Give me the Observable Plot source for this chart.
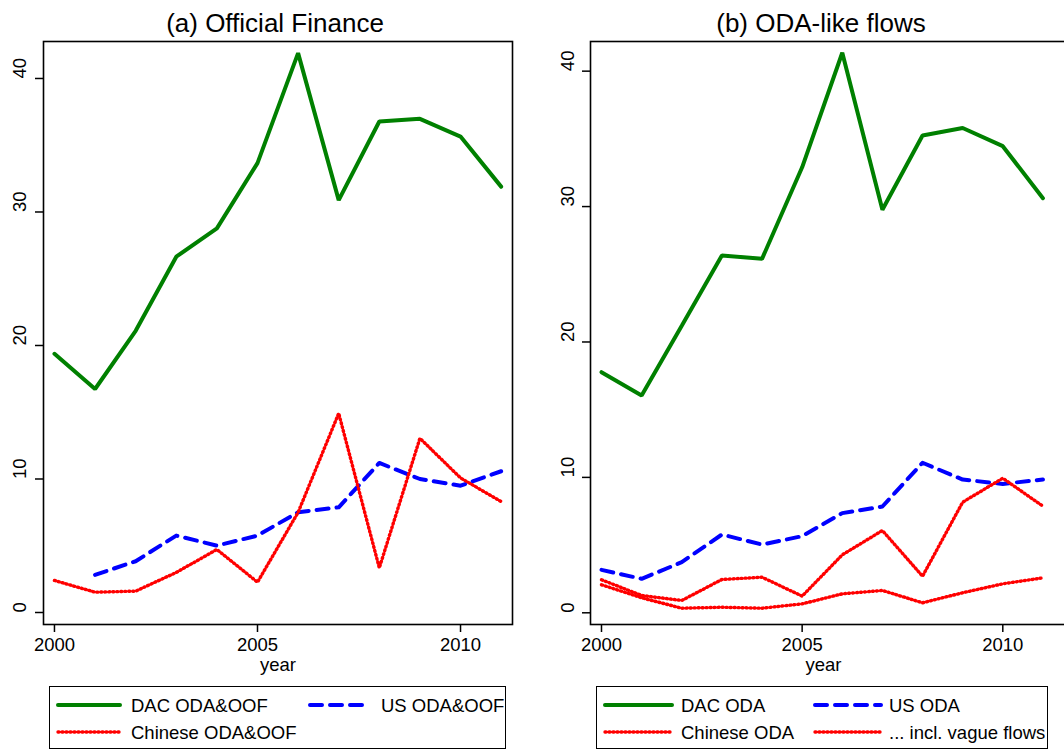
<!DOCTYPE html>
<html>
<head>
<meta charset="utf-8">
<script src="https://cdn.jsdelivr.net/npm/d3@7"></script>
<script src="https://cdn.jsdelivr.net/npm/@observablehq/plot@0.6"></script>
<style>
  html, body { margin: 0; padding: 0; background: #fff; overflow: hidden; }
  #root { position: relative; width: 1064px; height: 749px; overflow: hidden; font-family: "Liberation Sans", Arial, Helvetica, sans-serif; color: #000; }
  .abs { position: absolute; }
  .title { font-size: 26px; line-height: 26px; text-align: center; white-space: nowrap; }
  .lbox { border: 1.5px solid #000; box-sizing: border-box; overflow: hidden; }
  .ltext { font-size: 18.5px; line-height: 18.5px; white-space: nowrap; }
</style>
</head>
<body>
<div id="root"></div>
<script>
// ---- data ----
const years = [2000, 2001, 2002, 2003, 2004, 2005, 2006, 2007, 2008, 2009, 2010, 2011];
const xTicks = [2000, 2005, 2010];
const yTicks = [0, 10, 20, 30, 40];

// (a) Official Finance
const dacOF = [19.38, 16.74, 21.1, 26.65, 28.77, 33.66, 41.9, 30.89, 36.78, 36.98, 35.65, 31.9];
const usOF  = [null, 2.82, 3.84, 5.76, 5.01, 5.76, 7.51, 7.88, 11.2, 10.0, 9.5, 10.58];
const cnOF  = [2.4, 1.52, 1.6, 3.0, 4.72, 2.27, 7.5, 14.92, 3.34, 13.05, 10.08, 8.31];

// (b) ODA-like flows
const dacODA     = [17.77, 16.05, 21.2, 26.39, 26.14, 32.9, 41.36, 29.76, 35.25, 35.8, 34.46, 30.62];
const usODA      = [3.17, 2.51, 3.74, 5.78, 5.04, 5.66, 7.36, 7.85, 11.08, 9.84, 9.52, 9.84];
const cnODA      = [2.07, 1.11, 0.34, 0.41, 0.34, 0.66, 1.4, 1.65, 0.74, 1.48, 2.14, 2.58];
const cnODAvague = [2.44, 1.28, 0.91, 2.46, 2.63, 1.23, 4.28, 6.08, 2.7, 8.17, 9.94, 7.87];

const titles = ["(a) Official Finance", "(b) ODA-like flows"];
const legendA = ["DAC ODA&OOF", "US ODA&OOF", "Chinese ODA&OOF"];
const legendB = ["DAC ODA", "US ODA", "Chinese ODA", "... incl. vague flows"];

// ---- styles ----
const STY = {
  dac: {stroke: "#008000", strokeWidth: 4, strokeLinejoin: "miter"},
  us:  {stroke: "#0000ff", strokeWidth: 4, strokeDasharray: "12 8", strokeLinecap: "round"},
  cn:  {stroke: "#ff0000", strokeWidth: 3.4, strokeDasharray: "1 3", strokeLinecap: "round"}
};

const FONT = "'Liberation Sans', Arial, Helvetica, sans-serif";
const root = document.getElementById("root");

function table(arr) { return years.map((y, i) => ({year: y, v: arr[i]})); }

function panel({left, width, marginLeft, marginRight, xDomain, yDomain, series, yLabelDx, yearDx}) {
  const svg = Plot.plot({
    width, height: 680,
    marginTop: 41, marginBottom: 56, marginLeft, marginRight,
    x: {domain: xDomain},
    y: {domain: yDomain},
    style: {fontFamily: FONT, fontSize: "18.5px", background: "transparent", overflow: "visible", color: "#000"},
    marks: [
      Plot.frame({stroke: "#000", strokeWidth: 1.6}),
      Plot.axisX({ticks: xTicks, tickSize: 8, tickPadding: 5, tickFormat: d => String(d), fontSize: 18.5, label: null, strokeWidth: 1.5}),
      Plot.axisY({ticks: yTicks, tickSize: 8, tickFormat: () => "", label: null, strokeWidth: 1.5}),
      Plot.text(yTicks, {y: d => d, frameAnchor: "left", dx: yLabelDx, rotate: -90, text: d => String(d), fontSize: 18.5, fill: "#000"}),
      Plot.text(["year"], {frameAnchor: "bottom", lineAnchor: "middle", dx: yearDx, dy: 41, text: d => d, fontSize: 18.5, fill: "#000"}),
      ...series.map(([arr, sty]) => Plot.line(table(arr), {x: "year", y: "v", ...sty}))
    ]
  });
  svg.style.position = "absolute";
  svg.style.left = left + "px";
  svg.style.top = "0px";
  root.appendChild(svg);
}

panel({
  left: 0, width: 530, marginLeft: 43, marginRight: 18,
  xDomain: [1999.73, 2011.28], yDomain: [-0.899, 42.77],
  series: [[dacOF, STY.dac], [usOF, STY.us], [cnOF, STY.cn]],
  yLabelDx: -23, yearDx: 0
});
panel({
  left: 530, width: 540, marginLeft: 60, marginRight: 0,
  xDomain: [1999.726, 2011.687], yDomain: [-0.864, 42.19],
  series: [[dacODA, STY.dac], [usODA, STY.us], [cnODA, STY.cn], [cnODAvague, STY.cn]],
  yLabelDx: -22, yearDx: -7
});

// ---- titles ----
function addTitle(text, cx) {
  const d = document.createElement("div");
  d.className = "abs title";
  d.textContent = text;
  d.style.left = (cx - 250) + "px";
  d.style.width = "500px";
  d.style.top = "10px";
  root.appendChild(d);
}
addTitle(titles[0], 275);
addTitle(titles[1], 821);

// ---- legends ----
function sample(sty, x, y, w) {
  const ns = "http://www.w3.org/2000/svg";
  const s = document.createElementNS(ns, "svg");
  s.setAttribute("width", w + 4);
  s.setAttribute("height", 10);
  s.style.position = "absolute";
  s.style.left = (x - 2) + "px";
  s.style.top = (y - 5) + "px";
  s.style.overflow = "visible";
  const l = document.createElementNS(ns, "line");
  l.setAttribute("x1", 2); l.setAttribute("x2", w + 2);
  l.setAttribute("y1", 5); l.setAttribute("y2", 5);
  l.setAttribute("stroke", sty.stroke);
  l.setAttribute("stroke-width", sty.strokeWidth);
  if (sty.strokeDasharray) l.setAttribute("stroke-dasharray", sty.strokeDasharray);
  l.setAttribute("stroke-linecap", sty.strokeLinecap || "round");
  s.appendChild(l);
  return s;
}
function legend(box, items) {
  const b = document.createElement("div");
  b.className = "abs lbox";
  b.style.left = box.left + "px"; b.style.top = box.top + "px";
  b.style.width = box.width + "px"; b.style.height = box.height + "px";
  root.appendChild(b);
  items.forEach(it => {
    b.appendChild(sample(it.sty, it.sx - box.left, it.y - box.top, it.sw));
    const t = document.createElement("div");
    t.className = "abs ltext";
    t.textContent = it.text;
    t.style.left = (it.tx - box.left) + "px";
    t.style.top = (it.y - box.top - 8.5) + "px";
    b.appendChild(t);
  });
}
legend({left: 49, top: 686, width: 457, height: 63}, [
  {text: legendA[0], sty: STY.dac, sx: 57, sw: 62, tx: 130, y: 704},
  {text: legendA[1], sty: STY.us,  sx: 309, sw: 58, tx: 380, y: 704},
  {text: legendA[2], sty: STY.cn,  sx: 57, sw: 62, tx: 130, y: 731}
]);
legend({left: 596, top: 686, width: 452, height: 63}, [
  {text: legendB[0], sty: STY.dac, sx: 604, sw: 67, tx: 680, y: 704},
  {text: legendB[1], sty: STY.us,  sx: 814, sw: 66, tx: 888, y: 704},
  {text: legendB[2], sty: STY.cn,  sx: 604, sw: 67, tx: 680, y: 731},
  {text: legendB[3], sty: STY.cn,  sx: 814, sw: 66, tx: 888, y: 731}
]);
</script>
</body>
</html>
